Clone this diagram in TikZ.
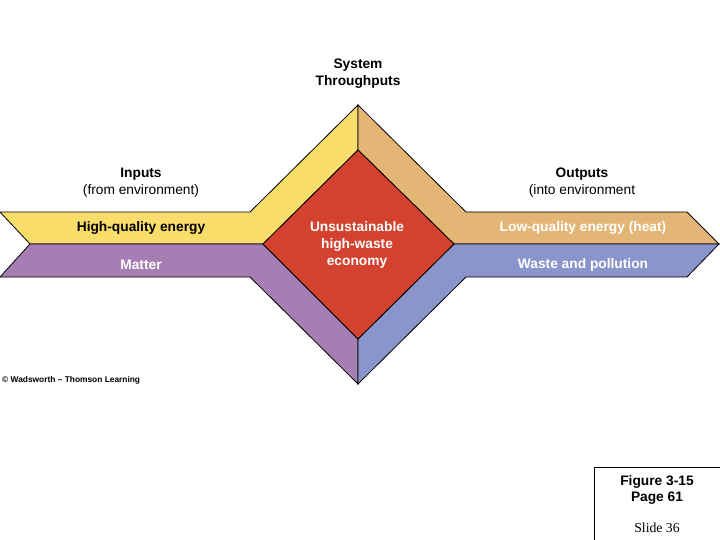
\documentclass[tikz,border=0pt]{standalone}
\usepackage{fontspec}
\setmainfont{Liberation Sans}
\newfontfamily\serifface{Liberation Serif}
\definecolor{cyellow}{RGB}{249,221,106}
\definecolor{corange}{RGB}{228,182,118}
\definecolor{cpurple}{RGB}{166,126,179}
\definecolor{cblue}{RGB}{137,149,203}
\definecolor{cred}{RGB}{210,66,46}
\tikzset{
  band/.style={draw=black, line width=0.8bp, line join=miter},
  lbl/.style={inner sep=0pt, align=center, font=\fontsize{13.8}{17}\selectfont},
  blbl/.style={lbl, font=\fontsize{13.8}{17}\selectfont\bfseries},
}
\begin{document}
\begin{tikzpicture}[x=1bp,y=-1bp]
\useasboundingbox (0,0) rectangle (720,540);
% bands
\draw[band, fill=cyellow] (0,212) -- (250,212) -- (358,105) -- (358,150) -- (263,244) -- (30,244) -- cycle;
\draw[band, fill=corange] (358,105) -- (466,212) -- (687,212) -- (719,244) -- (454,244) -- (358,150) -- cycle;
\draw[band, fill=cpurple] (30,244) -- (263,244) -- (358,339) -- (358,384) -- (250,277) -- (0,277) -- cycle;
\draw[band, fill=cblue] (454,244) -- (719,244) -- (687,277) -- (466,277) -- (358,384) -- (358,339) -- cycle;
\draw[band, fill=cred] (263,244) -- (358,150) -- (454,244) -- (358,339) -- cycle;
% labels
\node[blbl] (sys) at (358,74) {System\\Throughputs};
\node[lbl] (inp) at (141,183) {\textbf{Inputs}\\(from environment)};
\node[lbl] (outp) at (582,183) {\textbf{Outputs}\\(into environment};
\node[blbl] (hqe) at (141,228) {High-quality energy};
\node[blbl, text=white] (mat) at (141,265) {Matter};
\node[blbl, text=white] (eco) at (357,245) {Unsustainable\\high-waste\\economy};
\node[blbl, text=white] (lqe) at (583,228) {Low-quality energy (heat)};
\node[blbl, text=white] (wap) at (583,265) {Waste and pollution};
\node[anchor=west, inner sep=0pt, font=\fontsize{8.4}{10}\selectfont\bfseries] (copy) at (2,380) {© Wadsworth – Thomson Learning};
% slide box
\draw[line width=0.8bp] (720,467) -- (594,467) -- (594,540);
\node[blbl] (fig) at (657,490) {Figure 3-15\\Page 61};
\node[inner sep=0pt, font=\fontsize{13.8}{17}\selectfont\serifface] (slide) at (657,528) {Slide 36};
\end{tikzpicture}
\end{document}
